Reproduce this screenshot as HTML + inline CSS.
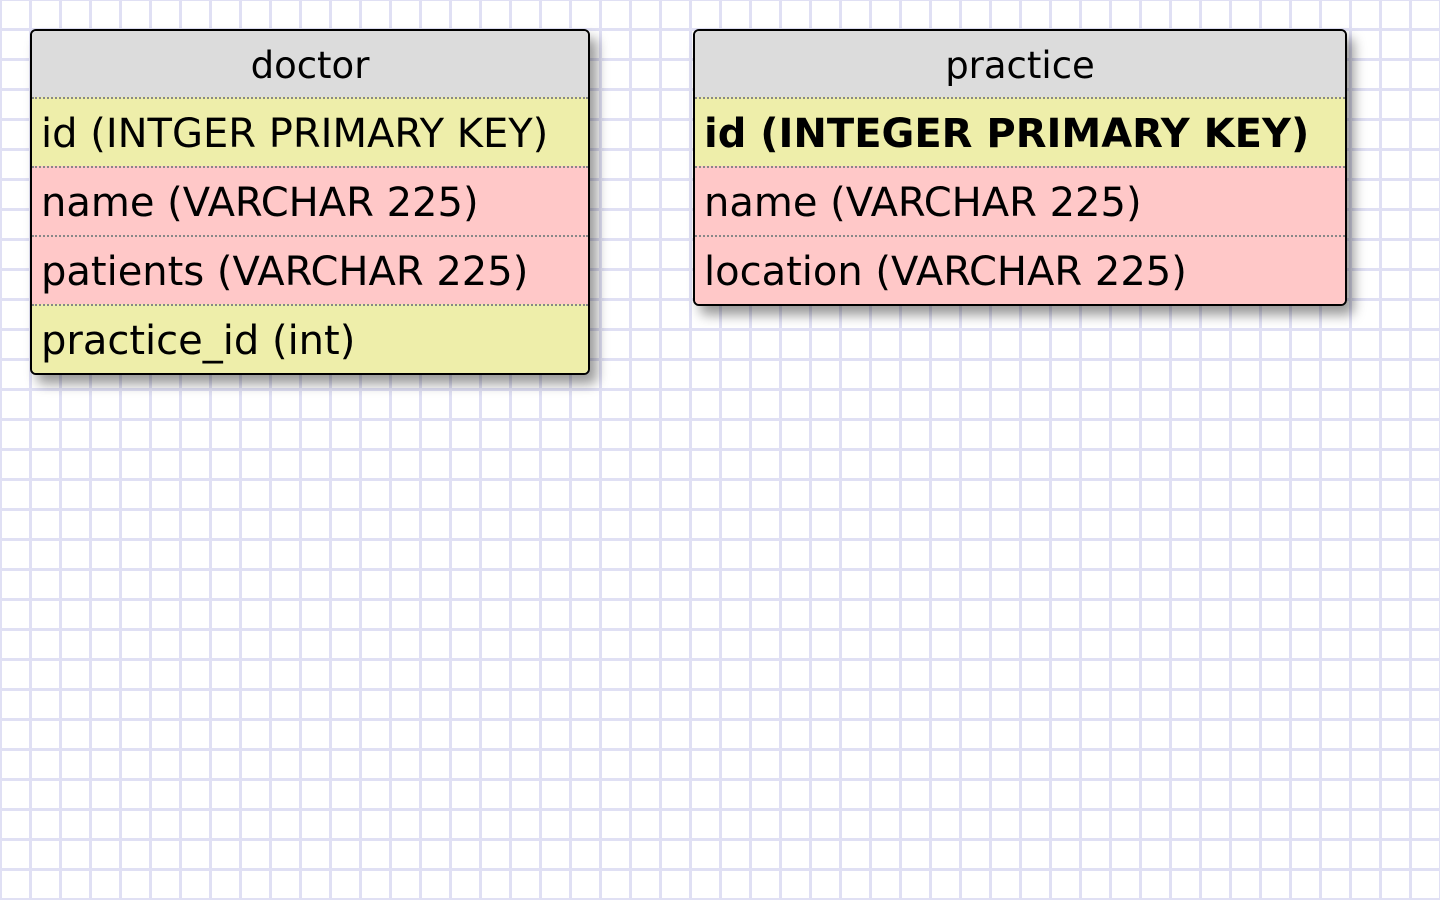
<!DOCTYPE html>
<html><head><meta charset="utf-8"><style>
html,body{margin:0;padding:0;}
body{width:1440px;height:900px;overflow:hidden;background-color:#fff;
background-image:linear-gradient(to right,#e0e0f4 3px,transparent 3px),linear-gradient(to bottom,#e0e0f4 3px,transparent 3px);
background-size:30px 30px;background-position:-1px -2px;font-family:"DejaVu Sans","Liberation Sans",sans-serif;}
.t{position:absolute;border:2px solid #000;border-radius:6px;overflow:hidden;box-shadow:7px 9px 12px rgba(0,0,0,0.4);}
.h{height:66px;background:#dcdcdc;text-align:center;line-height:70px;font-size:37px;color:#000;}
.r{height:67px;border-top:2px dotted #888;font-size:40px;line-height:70px;padding-left:9px;white-space:nowrap;color:#000;}
.y{background:#eeeeaa}.p{background:#ffc8c8}.b{font-weight:bold}
</style></head><body>
<div class="t" style="left:30px;top:29px;width:556px;">
<div class="h">doctor</div>
<div class="r y">id (INTGER PRIMARY KEY)</div>
<div class="r p">name (VARCHAR 225)</div>
<div class="r p">patients (VARCHAR 225)</div>
<div class="r y">practice_id (int)</div>
</div>
<div class="t" style="left:693px;top:29px;width:650px;">
<div class="h">practice</div>
<div class="r y b">id (INTEGER PRIMARY KEY)</div>
<div class="r p">name (VARCHAR 225)</div>
<div class="r p">location (VARCHAR 225)</div>
</div>
</body></html>
